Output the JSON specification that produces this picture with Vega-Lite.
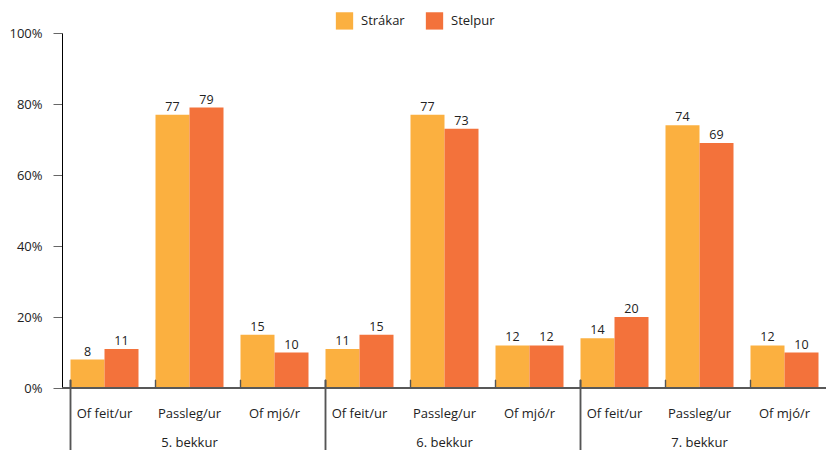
{
  "$schema": "https://vega.github.io/schema/vega-lite/v6.json",
  "width": 765,
  "height": 355,
  "padding": {"left": 8, "top": 11, "right": 0, "bottom": 0},
  "config": {
    "font": "Open Sans",
    "view": {"stroke": null},
    "axis": {"labelFont": "Open Sans", "labelColor": "#222", "labelFontSize": 13, "grid": false}
  },
  "data": {
    "values": [
      {"key": "5. bekkur|Of feit/ur", "grp": "5. bekkur", "gender": "Strákar", "value": 8},
      {"key": "5. bekkur|Of feit/ur", "grp": "5. bekkur", "gender": "Stelpur", "value": 11},
      {"key": "5. bekkur|Passleg/ur", "grp": "5. bekkur", "gender": "Strákar", "value": 77},
      {"key": "5. bekkur|Passleg/ur", "grp": "5. bekkur", "gender": "Stelpur", "value": 79},
      {"key": "5. bekkur|Of mjó/r", "grp": "5. bekkur", "gender": "Strákar", "value": 15},
      {"key": "5. bekkur|Of mjó/r", "grp": "5. bekkur", "gender": "Stelpur", "value": 10},
      {"key": "6. bekkur|Of feit/ur", "grp": "6. bekkur", "gender": "Strákar", "value": 11},
      {"key": "6. bekkur|Of feit/ur", "grp": "6. bekkur", "gender": "Stelpur", "value": 15},
      {"key": "6. bekkur|Passleg/ur", "grp": "6. bekkur", "gender": "Strákar", "value": 77},
      {"key": "6. bekkur|Passleg/ur", "grp": "6. bekkur", "gender": "Stelpur", "value": 73},
      {"key": "6. bekkur|Of mjó/r", "grp": "6. bekkur", "gender": "Strákar", "value": 12},
      {"key": "6. bekkur|Of mjó/r", "grp": "6. bekkur", "gender": "Stelpur", "value": 12},
      {"key": "7. bekkur|Of feit/ur", "grp": "7. bekkur", "gender": "Strákar", "value": 14},
      {"key": "7. bekkur|Of feit/ur", "grp": "7. bekkur", "gender": "Stelpur", "value": 20},
      {"key": "7. bekkur|Passleg/ur", "grp": "7. bekkur", "gender": "Strákar", "value": 74},
      {"key": "7. bekkur|Passleg/ur", "grp": "7. bekkur", "gender": "Stelpur", "value": 69},
      {"key": "7. bekkur|Of mjó/r", "grp": "7. bekkur", "gender": "Strákar", "value": 12},
      {"key": "7. bekkur|Of mjó/r", "grp": "7. bekkur", "gender": "Stelpur", "value": 10}
    ]
  },
  "layer": [
    {
      "mark": {"type": "bar"},
      "encoding": {
        "x": {
          "field": "key", "type": "nominal", "title": null, "sort": null,
          "scale": {"paddingInner": 0.2, "paddingOuter": 0.1},
          "axis": {"labelAngle": 0, "ticks": false, "tickSize": 0, "domain": false, "labelPadding": 19, "labelExpr": "split(datum.value, '|')[1]"}
        },
        "xOffset": {"field": "gender", "sort": ["Strákar", "Stelpur"]},
        "y": {
          "field": "value", "type": "quantitative", "title": null,
          "scale": {"domain": [0, 100], "nice": false},
          "axis": {"values": [0, 10, 20, 30, 40, 50, 60, 70, 80, 90, 100], "tickCount": 10, "labelOverlap": false, "labelExpr": "datum.value + '%'", "domainColor": "#000", "tickColor": "#666", "tickSize": 9, "labelPadding": 11}
        },
        "color": {
          "field": "gender", "type": "nominal",
          "scale": {"domain": ["Strákar", "Stelpur"], "range": ["#FBB040", "#F3723B"]},
          "legend": {"title": null, "orient": "none", "direction": "horizontal", "legendX": 273, "legendY": -22, "symbolType": "square", "symbolSize": 300, "labelFontSize": 13, "labelColor": "#222", "labelOffset": 7, "columnPadding": 20}
        }
      }
    },
    {
      "mark": {"type": "text", "baseline": "alphabetic", "dy": -4, "fontSize": 12.5, "color": "#222"},
      "encoding": {
        "x": {
          "field": "key", "type": "nominal", "title": null, "sort": null,
          "axis": {"labelAngle": 0, "ticks": false, "tickSize": 0, "domain": false, "labelPadding": 19, "labelExpr": "split(datum.value, '|')[1]"}
        },
        "xOffset": {"field": "gender", "sort": ["Strákar", "Stelpur"]},
        "y": {
          "field": "value", "type": "quantitative", "title": null,
          "axis": {"values": [0, 10, 20, 30, 40, 50, 60, 70, 80, 90, 100], "tickCount": 10, "labelOverlap": false, "labelExpr": "datum.value + '%'", "domainColor": "#000", "tickColor": "#666", "tickSize": 9, "labelPadding": 11}
        },
        "text": {"field": "value", "type": "quantitative"}
      }
    },
    {
      "mark": {"type": "rule", "color": "#595959", "strokeWidth": 1.5},
      "encoding": {
        "y": {
          "datum": 0, "title": null,
          "axis": {"values": [0, 10, 20, 30, 40, 50, 60, 70, 80, 90, 100], "tickCount": 10, "labelOverlap": false, "labelExpr": "datum.value + '%'", "domainColor": "#000", "tickColor": "#666", "tickSize": 9, "labelPadding": 11}
        }
      }
    },
    {
      "mark": {"type": "rule", "color": "#555", "strokeWidth": 1.2},
      "encoding": {
        "x": {
          "field": "key", "type": "nominal", "title": null, "sort": null, "bandPosition": 0,
          "axis": {"labelAngle": 0, "ticks": false, "tickSize": 0, "domain": false, "labelPadding": 19, "labelExpr": "split(datum.value, '|')[1]"}
        },
        "y": {
          "datum": 2.3, "title": null,
          "axis": {"values": [0, 10, 20, 30, 40, 50, 60, 70, 80, 90, 100], "tickCount": 10, "labelOverlap": false, "labelExpr": "datum.value + '%'", "domainColor": "#000", "tickColor": "#666", "tickSize": 9, "labelPadding": 11}
        },
        "y2": {"datum": 0}
      }
    },
    {
      "transform": [{"filter": {"field": "key", "oneOf": ["5. bekkur|Of feit/ur", "6. bekkur|Of feit/ur", "7. bekkur|Of feit/ur"]}}],
      "mark": {"type": "rule", "color": "#555", "strokeWidth": 1.5},
      "encoding": {
        "x": {
          "field": "key", "type": "nominal", "title": null, "sort": null, "bandPosition": 0,
          "axis": {"labelAngle": 0, "ticks": false, "tickSize": 0, "domain": false, "labelPadding": 19, "labelExpr": "split(datum.value, '|')[1]"}
        },
        "y": {
          "datum": 2.3, "title": null,
          "axis": {"values": [0, 10, 20, 30, 40, 50, 60, 70, 80, 90, 100], "tickCount": 10, "labelOverlap": false, "labelExpr": "datum.value + '%'", "domainColor": "#000", "tickColor": "#666", "tickSize": 9, "labelPadding": 11}
        },
        "y2": {"datum": -18}
      }
    },
    {
      "transform": [
        {"filter": {"field": "key", "oneOf": ["5. bekkur|Passleg/ur", "6. bekkur|Passleg/ur", "7. bekkur|Passleg/ur"]}},
        {"filter": {"field": "gender", "equal": "Strákar"}}
      ],
      "mark": {"type": "text", "baseline": "middle", "fontSize": 13, "color": "#222"},
      "encoding": {
        "x": {
          "field": "key", "type": "nominal", "title": null, "sort": null,
          "axis": {"labelAngle": 0, "ticks": false, "tickSize": 0, "domain": false, "labelPadding": 19, "labelExpr": "split(datum.value, '|')[1]"}
        },
        "y": {
          "datum": -15.5, "title": null,
          "axis": {"values": [0, 10, 20, 30, 40, 50, 60, 70, 80, 90, 100], "tickCount": 10, "labelOverlap": false, "labelExpr": "datum.value + '%'", "domainColor": "#000", "tickColor": "#666", "tickSize": 9, "labelPadding": 11}
        },
        "text": {"field": "grp"}
      }
    }
  ]
}
